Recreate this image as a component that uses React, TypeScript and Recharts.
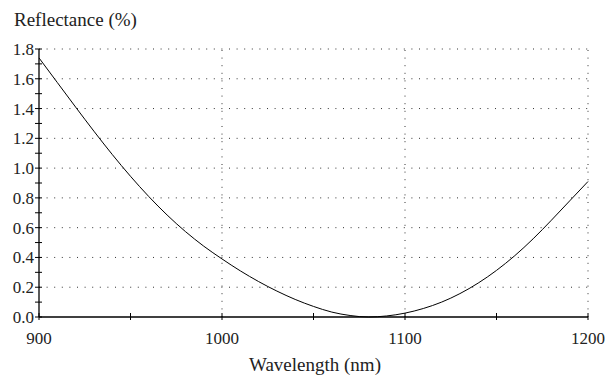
import React from "react";
import { LineChart, Line, XAxis, YAxis, ReferenceLine } from "recharts";

const wavelengths = [900, 910, 920, 930, 940, 950, 960, 970, 980, 990, 1000, 1010, 1020, 1030, 1040, 1050, 1060, 1070, 1080, 1090, 1100, 1110, 1120, 1130, 1140, 1150, 1160, 1170, 1180, 1190, 1200];
const reflectance = [1.74, 1.575, 1.41, 1.248, 1.092, 0.945, 0.809, 0.685, 0.574, 0.476, 0.39, 0.31, 0.238, 0.174, 0.118, 0.071, 0.033, 0.01, 0.0, 0.007, 0.026, 0.057, 0.1, 0.157, 0.228, 0.313, 0.412, 0.525, 0.65, 0.78, 0.91];

const xTicks = [900, 950, 1000, 1050, 1100, 1150, 1200];
const xLabelTicks = [900, 1000, 1100, 1200];
const yTicks = [0, 0.1, 0.2, 0.3, 0.4, 0.5, 0.6, 0.7, 0.8, 0.9, 1.0, 1.1, 1.2, 1.3, 1.4, 1.5, 1.6, 1.7, 1.8];
const yGrid = [0.2, 0.4, 0.6, 0.8, 1.0, 1.2, 1.4, 1.6, 1.8];
const xGrid = [1000, 1100, 1200];

const data = wavelengths.map((w, i) => ({ w, r: reflectance[i] }));

const FONT = "Liberation Serif";
const TEXT = "#222";

const XTick = (props: any) => {
  const { x, y, payload } = props;
  const v = payload.value;
  const major = xLabelTicks.some((t) => Math.abs(t - v) < 1e-6);
  return (
    <g>
      <line x1={x} x2={x} y1={y - 4} y2={y + 3} stroke="#000" strokeWidth={1} />
      {major && (
        <text x={x} y={y + 27} textAnchor="middle" style={{ fontFamily: FONT, fontSize: 17 }} fill={TEXT}>
          {v}
        </text>
      )}
    </g>
  );
};

const YTick = (props: any) => {
  const { x, y, payload } = props;
  const v = payload.value;
  const major = Math.abs(Math.round(v * 10) % 2) === 0;
  return (
    <g>
      <line x1={x - 4} x2={x + 3} y1={y} y2={y} stroke="#000" strokeWidth={1} />
      {major && (
        <text x={x - 5} y={y + 6} textAnchor="end" style={{ fontFamily: FONT, fontSize: 17 }} fill={TEXT}>
          {v.toFixed(1)}
        </text>
      )}
    </g>
  );
};

export default function App() {
  return (
    <div style={{ position: "absolute", left: 0, top: 0, width: 615, height: 376, background: "#fff", fontFamily: FONT }}>
      <LineChart width={615} height={376} data={data} margin={{ top: 49, right: 27, bottom: 29, left: 0 }}>
        {yGrid.map((v) => (
          <ReferenceLine key={"h" + v} y={v} stroke="#333" strokeDasharray="1 6.6" ifOverflow="visible" />
        ))}
        {xGrid.map((v) => (
          <ReferenceLine key={"v" + v} x={v} stroke="#333" strokeDasharray="1 6.6" ifOverflow="visible" />
        ))}
        <XAxis
          dataKey="w"
          type="number"
          domain={[900, 1200]}
          ticks={xTicks}
          interval={0}
          height={30}
          tickSize={0}
          tickMargin={0}
          tickLine={false}
          axisLine={{ stroke: "#000", strokeWidth: 1.3 }}
          tick={<XTick />}
        />
        <YAxis
          type="number"
          domain={[0, 1.8]}
          ticks={yTicks}
          interval={0}
          width={39}
          tickSize={0}
          tickMargin={0}
          tickLine={false}
          axisLine={{ stroke: "#000", strokeWidth: 1.3 }}
          tick={<YTick />}
        />
        <Line type="monotone" dataKey="r" stroke="#000" strokeWidth={1} dot={false} isAnimationActive={false} />
      </LineChart>
      <div
        style={{
          position: "absolute",
          left: 14,
          top: 10,
          fontFamily: FONT,
          fontSize: 19,
          lineHeight: "19px",
          color: TEXT,
          whiteSpace: "nowrap",
        }}
      >
        Reflectance (%)
      </div>
      <div
        style={{
          position: "absolute",
          left: 315,
          top: 355,
          transform: "translateX(-50%)",
          fontFamily: FONT,
          fontSize: 19,
          lineHeight: "19px",
          color: TEXT,
          whiteSpace: "nowrap",
        }}
      >
        Wavelength (nm)
      </div>
    </div>
  );
}
